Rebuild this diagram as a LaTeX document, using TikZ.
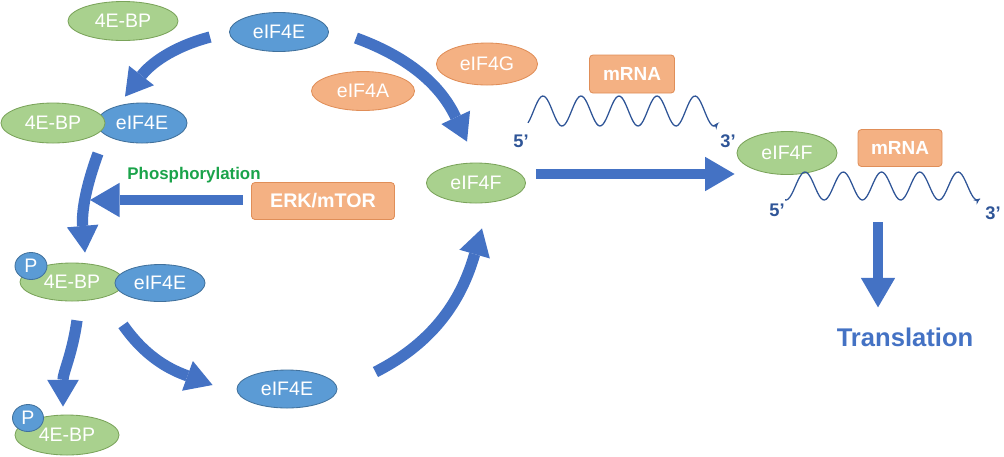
\documentclass[tikz,border=0pt]{standalone}
\usepackage{fontspec}
\setmainfont{Liberation Sans}
\usetikzlibrary{arrows.meta,shapes.geometric,calc}
\definecolor{eblue}{HTML}{5B9BD5}
\definecolor{ebluedraw}{HTML}{41719C}
\definecolor{egreen}{HTML}{A9D18E}
\definecolor{egreendraw}{HTML}{7AA35A}
\definecolor{eorange}{HTML}{F4B183}
\definecolor{eorangedraw}{HTML}{E08E58}
\definecolor{flowblue}{HTML}{4472C4}
\definecolor{rnablue}{HTML}{2F5597}
\definecolor{phosgreen}{HTML}{1AA34A}

\begin{document}
\begin{tikzpicture}[x=0.025cm, y=0.025cm,
  prot/.style={ellipse, draw, line width=0.6pt, inner sep=0pt, text=white,
    font=\fontsize{13.9}{15}\selectfont},
  bluep/.style={prot, fill=eblue, draw=ebluedraw},
  greenp/.style={prot, fill=egreen, draw=egreendraw},
  orangep/.style={prot, fill=eorange, draw=eorangedraw},
  rnabox/.style={rectangle, rounded corners=2.5pt, draw=eorangedraw, line width=0.6pt,
    fill=eorange, text=white, inner sep=0pt, font=\bfseries\fontsize{13.5}{15}\selectfont},
  flow/.style={draw=flowblue, line width=8pt,
    -{Triangle[width=22.5pt,length=19pt,line width=0pt]}},
  straightflow/.style={draw=flowblue, line width=7pt,
    -{Triangle[width=24.5pt,length=21pt,line width=0pt]}},
  rna/.style={draw=rnablue, line width=0.9pt, -{Stealth[length=4.5pt,width=4pt]}},
  primelabel/.style={text=rnablue, inner sep=0pt, font=\bfseries\fontsize{13}{15}\selectfont}]
  \useasboundingbox (0,0) rectangle (1004,-456);
  % free factors on top
  \node[greenp, minimum width=2.75cm, minimum height=0.975cm] (bpfree) at (123,-21) {4E-BP};
  \node[bluep, minimum width=2.475cm, minimum height=0.975cm] (eetop) at (279,-32) {eIF4E};
  \node[orangep, minimum width=2.575cm, minimum height=0.975cm] (ea) at (363,-91) {eIF4A};
  \node[orangep, minimum width=2.525cm, minimum height=1.05cm] (eg) at (487,-64) {eIF4G};
  \node[rnabox, minimum width=2.125cm, minimum height=0.95cm] (mrnatop) at (632,-74) {mRNA};
  % 4E-BP bound to eIF4E
  \node[bluep, minimum width=2.25cm, minimum height=1cm] (eec) at (142,-123) {eIF4E};
  \node[greenp, minimum width=2.6cm, minimum height=1cm] (bpc) at (53,-123) {4E-BP};
  \node[rnabox, minimum width=3.575cm, minimum height=0.925cm,
    font=\bfseries\fontsize{14}{16}\selectfont] (erk) at (323,-201) {ERK/mTOR};
  \node[text=phosgreen, font=\bfseries\fontsize{12}{14}\selectfont] (phos) at (194,-175) {Phosphorylation};
  % phosphorylated complex
  \node[greenp, minimum width=2.6cm, minimum height=0.95cm] (pbpc) at (72,-282) {4E-BP};
  \node[bluep, minimum width=2.25cm, minimum height=0.925cm] (peec) at (160,-283) {eIF4E};
  \node[bluep, minimum width=0.8cm, minimum height=0.675cm] (pc) at (31,-266) {P};
  \node[greenp, minimum width=2.6cm, minimum height=1cm] (pbp) at (67,-435) {4E-BP};
  \node[bluep, minimum width=0.775cm, minimum height=0.675cm] (pp) at (28,-418) {P};
  \node[bluep, minimum width=2.5cm, minimum height=0.95cm] (eebot) at (287,-389) {eIF4E};
  % eIF4F and mRNA
  \node[greenp, minimum width=2.475cm, minimum height=1cm] (eff) at (476,-183) {eIF4F};
  \node[greenp, minimum width=2.5cm, minimum height=1.075cm] (effr) at (787,-153) {eIF4F};
  \node[rnabox, minimum width=2.1cm, minimum height=0.925cm] (mrnar) at (900,-148) {mRNA};
  \node[text=flowblue, inner sep=0pt, font=\bfseries\fontsize{18.2}{20}\selectfont] (trans) at (905,-337) {Translation};
  \node[primelabel] (fivea) at (521,-141) {5’};
  \node[primelabel] (threea) at (728,-141) {3’};
  \node[primelabel] (fiveb) at (777,-210) {5’};
  \node[primelabel] (threeb) at (993,-213) {3’};
  \draw[rna] plot[domain=528:718, samples=120] (\x, {-111+15*cos(9.474*(\x-543))});
  \draw[rna] plot[domain=785:980, samples=120] (\x, {-186+14*cos(9.41*(\x-805))});
  % flow arrows
  \draw[flow] ($(eetop.west)+(-19,-5)$) to[out=195, in=52] ($(eec.north)+(-17,6)$);
  \draw[flow] ($(eetop.east)+(27,-6)$) to[out=-20, in=115] ($(eff.north)+(-9,21)$);
  \draw[flow] ($(bpc.south)+(45,-10)$) to[out=250, in=95] ($(pbpc.north)+(13,10)$);
  \draw[straightflow] ($(erk.west)+(-8,1)$) -- ($(erk.west)+(-161,1)$);
  \draw[flow] ($(pbpc.south)+(5,-19)$) to[out=262, in=90] ($(pbp.north)+(-4,8)$);
  \draw[flow] ($(peec.south)+(-37,-23)$) to[out=-55, in=160] ($(eebot.west)+(-24,4)$);
  \draw[flow] ($(eebot.east)+(38,17)$) to[out=27, in=-106] ($(eff.south)+(6,-25)$);
  \draw[straightflow] ($(eff.east)+(10,9)$) -- ($(effr.west)+(-2,-21)$);
  \draw[straightflow] ($(trans.north)+(-27,105)$) -- ($(trans.north)+(-27,20)$);
\end{tikzpicture}
\end{document}
